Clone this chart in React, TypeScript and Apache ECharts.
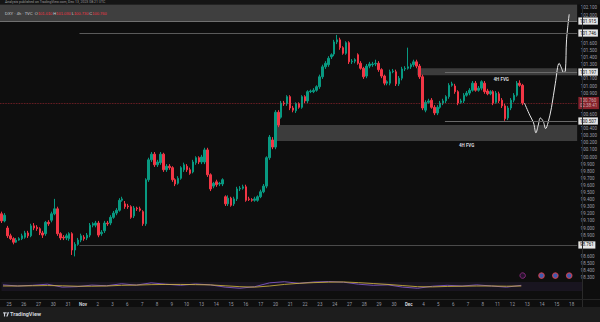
import { useEffect, useRef } from 'react';
import * as echarts from 'echarts';

// ---- data ----
const dayLabels = ['25','26','27','30','31','Nov','2','3','6','7','8','9','10','13','14','15','16','17','20','21','22','23','24','27','28','29','30','Dec','4','5','6','7','8','11','12','13','14','15','18'];
const monthLabels = ['Nov', 'Dec'];
const barsPerDay = 5;
const slotCount = 196;

// [open, close, low, high]
const candles = [
[99.20,99.10,99.07,99.23],[99.10,99.18,99.08,99.21],[99.00,98.89,98.86,99.03],[98.89,98.85,98.83,98.92],[98.85,98.80,98.77,98.87],
[98.80,98.83,98.79,98.86],[98.83,98.85,98.82,98.87],[98.85,98.89,98.83,98.92],[98.87,98.93,98.85,98.96],[98.93,98.89,98.86,98.96],
[98.89,99.03,98.87,99.06],[99.03,99.00,98.97,99.07],[99.01,98.99,98.96,99.04],[98.99,98.93,98.90,99.01],[98.93,98.90,98.86,98.96],
[98.92,99.08,98.89,99.10],[99.08,99.06,99.03,99.11],[99.11,99.20,99.08,99.23],[99.20,99.27,99.18,99.41],[99.27,98.92,98.89,99.30],
[98.92,98.86,98.83,98.94],[98.87,98.86,98.83,98.90],[98.86,98.89,98.83,98.92],[98.85,98.92,98.82,98.94],[98.92,98.69,98.62,98.94],
[98.69,98.77,98.60,98.80],[98.77,98.83,98.75,98.86],[98.83,98.89,98.80,98.92],[98.87,98.85,98.82,98.90],[98.86,98.90,98.83,98.93],
[98.90,99.04,98.87,99.07],[99.04,99.06,99.01,99.08],[99.04,99.07,99.01,99.10],[99.07,98.90,98.87,99.10],[98.92,98.94,98.89,98.97],
[98.96,99.07,98.93,99.10],[99.07,99.06,99.03,99.10],[99.07,99.15,99.04,99.18],[99.15,99.21,99.13,99.24],[99.21,99.25,99.18,99.28],
[99.25,99.39,99.23,99.42],[99.39,99.41,99.37,99.44],[99.34,99.30,99.27,99.38],[99.31,99.30,99.27,99.34],[99.30,99.15,99.13,99.32],
[99.17,99.28,99.14,99.31],[99.28,99.27,99.24,99.30],[99.27,99.25,99.23,99.30],[99.23,99.06,99.03,99.25],[99.06,99.68,99.03,99.70],
[99.68,99.96,99.65,99.99],[99.96,100.04,99.93,100.07],[100.04,99.89,99.86,100.07],[99.89,99.93,99.86,99.96],[99.92,100.04,99.89,100.07],
[100.04,99.82,99.79,100.06],[99.82,99.87,99.79,99.90],[99.87,99.85,99.82,99.90],[99.85,99.68,99.65,99.87],[99.68,99.62,99.59,99.70],
[99.63,99.70,99.61,99.73],[99.70,99.85,99.68,99.87],[99.82,99.89,99.79,99.92],[99.87,99.82,99.79,99.90],[99.82,99.77,99.75,99.85],
[99.79,99.93,99.77,99.96],[99.92,99.99,99.89,100.01],[99.99,99.93,99.90,100.01],[99.93,100.00,99.90,100.03],[99.93,100.10,99.90,100.13],
[100.10,99.75,99.72,100.13],[99.75,99.55,99.52,99.77],[99.59,99.63,99.56,99.65],[99.65,99.61,99.58,99.68],[99.62,99.63,99.59,99.65],
[99.62,99.68,99.59,99.70],[99.44,99.34,99.31,99.46],[99.34,99.42,99.31,99.46],[99.42,99.32,99.30,99.44],[99.34,99.41,99.31,99.44],
[99.41,99.55,99.38,99.58],[99.55,99.56,99.52,99.59],[99.56,99.58,99.54,99.61],[99.58,99.39,99.37,99.61],[99.41,99.40,99.38,99.44],
[99.40,99.39,99.37,99.42],[99.39,99.41,99.37,99.44],[99.39,99.44,99.37,99.46],[99.44,99.51,99.42,99.54],[99.51,99.59,99.49,99.62],
[99.59,99.99,99.56,100.01],[99.99,100.28,99.96,100.31],[100.24,100.14,100.11,100.28],[100.14,100.63,100.11,100.66],[100.63,100.45,100.42,100.66],
[100.56,100.76,100.54,100.79],[100.76,100.75,100.72,100.79],[100.75,100.85,100.72,100.87],[100.85,100.69,100.66,100.87],[100.69,100.66,100.63,100.72],
[100.65,100.75,100.62,100.77],[100.75,100.70,100.68,100.77],[100.70,100.85,100.68,100.87],[100.85,100.79,100.76,100.87],[100.79,100.92,100.76,100.94],
[100.92,100.93,100.90,100.95],[100.92,100.94,100.90,100.97],[100.94,100.99,100.92,101.01],[100.99,101.13,100.96,101.16],[101.13,101.27,101.10,101.30],
[101.27,101.32,101.24,101.35],[101.30,101.39,101.27,101.42],[101.41,101.44,101.38,101.46],[101.45,101.62,101.42,101.65],[101.62,101.65,101.59,101.72],
[101.65,101.54,101.51,101.68],[101.54,101.46,101.44,101.56],[101.46,101.61,101.44,101.63],[101.61,101.34,101.31,101.63],[101.34,101.35,101.31,101.38],
[101.35,101.37,101.32,101.39],[101.44,101.32,101.30,101.46],[101.32,101.25,101.23,101.35],[101.25,101.13,101.10,101.27],[101.14,101.28,101.11,101.31],
[101.28,101.31,101.25,101.34],[101.30,101.31,101.27,101.34],[101.31,101.32,101.28,101.37],[101.32,101.23,101.20,101.35],[101.23,101.14,101.11,101.25],
[101.14,101.04,101.01,101.16],[101.04,101.06,101.01,101.08],[101.04,101.20,101.01,101.23],[101.20,101.21,101.18,101.24],[101.20,101.03,101.00,101.23],
[101.03,101.11,101.00,101.14],[101.11,101.24,101.08,101.27],[101.24,101.25,101.21,101.28],[101.25,101.27,101.23,101.54],[101.27,101.30,101.24,101.32],
[101.30,101.34,101.27,101.37],[101.34,101.28,101.25,101.37],[101.28,101.13,101.10,101.31],[101.13,100.69,100.66,101.16],[100.66,100.77,100.63,100.80],
[100.77,100.79,100.75,100.82],[100.80,100.70,100.68,100.83],[100.70,100.62,100.59,100.73],[100.62,100.70,100.59,100.73],[100.70,100.76,100.68,100.79],
[100.76,100.79,100.73,100.82],[100.79,100.85,100.76,100.87],[100.85,101.01,100.82,101.04],[101.01,101.03,100.99,101.06],[101.00,100.92,100.89,101.03],
[100.92,100.76,100.73,100.94],[100.77,100.79,100.75,100.82],[100.79,100.87,100.76,100.90],[100.87,100.90,100.85,100.93],[100.90,100.94,100.87,100.97],
[100.94,101.04,100.92,101.07],[101.04,100.94,100.92,101.07],[100.94,100.97,100.92,101.00],[100.97,101.06,100.94,101.08],[101.04,100.92,100.89,101.07],
[100.93,100.89,100.87,100.96],[100.89,100.92,100.87,100.94],[100.92,100.76,100.73,100.94],[100.77,100.90,100.75,100.93],[100.89,100.79,100.76,100.92],
[100.80,100.72,100.69,100.83],[100.72,100.54,100.51,100.75],[100.55,100.69,100.52,100.72],[100.69,100.80,100.66,100.83],[100.80,100.87,100.77,100.90],
[100.87,101.04,100.85,101.07],[101.04,101.01,100.99,101.08],[101.01,100.76,100.73,101.03]
];

// hand-drawn projection (bar index, price)
const projIdx = [177.6, 179.4, 180.7, 181.5, 182.3, 183.0, 184.0, 184.8, 185.6, 186.8, 188.1, 189.4, 190.2, 190.9, 191.5, 191.9, 192.8];
const projPrice = [100.76, 100.59, 100.48, 100.34, 100.45, 100.55, 100.50, 100.40, 100.48, 100.70, 101.04, 101.32, 101.25, 101.19, 101.21, 101.65, 102.01];

// RSI pane, one value every 5 bars
const rsiStep = 5;
const rsiValues = [57,52,55,60,47,49,56,53,62,56,66,60,55,61,57,47,42,49,66,71,64,70,72,69,60,55,57,47,42,51,55,52,57,52,47,55];
const rsiMaValues = [52,52,53,54,53,51,51,52,55,56,58,59,59,58,57,53,49,47,52,59,64,67,69,70,67,63,59,54,49,48,50,51,52,52,51,52];

// zones
const topZone = [101.915, 102.15];
const fvgUpper = [101.15, 101.25];
const fvgUpperStart = 141.2;
const fvgLower = [100.225, 100.451];
const fvgLowerStart = 93.3;

// horizontal levels
const levelPrices = [101.915, 101.746, 101.197, 100.507, 98.761];
const levelStarts = [-0.5, 26.5, 150.6, 150.6, 26.5];
const levelNames = ['', 'pwH', 'pdH', 'pdL', 'pwL'];
const levelColors = ['#707070', '#5a5a5a', '#6a6a6a', '#6a6a6a', '#4a4a4a'];

const lastPrice = 100.76;
const countdown = '02:38:41';
const eventIdx = [177, 183.4, 188.1, 192.8];
const eventPrice = 98.33;

const titleText = 'Analysis published on TradingView.com, Dec 13, 2023 08:21 UTC';

// ---- build ----
const catKeys = Array.from({ length: slotCount }, (_, i) => 'b' + i);
const catLabels = catKeys.map((_, i) =>
  i % barsPerDay === 2 && dayLabels[(i - 2) / barsPerDay] !== undefined ? dayLabels[(i - 2) / barsPerDay] : ''
);
const X_END = slotCount - 0.5;

const AXIS_TXT = '#9a9da6';
const FONT = 'Roboto, "Noto Sans", sans-serif';

// axis labels hidden under the price tags, as TradingView does
const hiddenNear = (v: number) =>
  levelPrices.some((p) => Math.abs(p - v) < 0.08) || Math.abs(lastPrice - v) < 0.115;

const tag = (text: string, bg: string, fg: string) => ({
  show: true,
  position: 'end',
  formatter: text,
  backgroundColor: bg,
  color: fg,
  fontSize: 4.5,
  fontFamily: FONT,
  padding: [1.2, 1.6, 1.0, 1.6],
  distance: 1.2,
  lineHeight: 5,
});

const levelLines: any[] = [];
levelPrices.forEach((p, k) => {
  levelLines.push([
    { coord: [levelStarts[k], p], lineStyle: { color: levelColors[k], width: 1, type: 'solid' }, label: tag(p.toFixed(3), '#e6e6e6', '#111') },
    { coord: [X_END, p] },
  ]);
  if (levelNames[k]) {
    levelLines.push([
      { coord: [levelStarts[k], p], lineStyle: { opacity: 0 }, label: { show: true, position: 'insideEndBottom', formatter: levelNames[k], color: '#b8bbc4', fontSize: 4, fontFamily: FONT, distance: 1.2 } },
      { coord: [X_END, p] },
    ]);
  }
});
levelLines.push([
  { coord: [-0.5, lastPrice], lineStyle: { color: '#f23645', width: 0.8, type: 'dotted', opacity: 0.6 }, label: tag(lastPrice.toFixed(3) + '\n' + countdown, '#d8313f', '#fff') },
  { coord: [X_END, lastPrice] },
]);

const zoneStyle = { color: 'rgba(125,125,125,0.42)' };
const fvgLabel = (dx: number) => ({
  show: true,
  position: 'bottom',
  formatter: '4H FVG',
  color: '#d6d8de',
  fontSize: 4.5,
  fontWeight: 'bold',
  fontFamily: FONT,
  distance: 1.5,
  offset: [dx, 0],
});

const option: any = {
  animation: false,
  backgroundColor: '#0e0e0e',
  textStyle: { fontFamily: FONT },
  grid: [
    { left: 0, top: 4.35, width: 582, height: 273.35 },
    { left: 0, top: 275.2, width: 582, height: 22.5 },
  ],
  xAxis: [
    { type: 'category', gridIndex: 0, data: catKeys, show: false, boundaryGap: true },
    { type: 'value', gridIndex: 0, min: -0.5, max: X_END, show: false },
    {
      type: 'category', gridIndex: 1, data: catKeys, boundaryGap: true,
      axisLine: { show: false }, axisTick: { show: false }, splitLine: { show: false },
      axisLabel: {
        interval: 0, margin: 4, color: AXIS_TXT, fontSize: 4.5, fontFamily: FONT,
        formatter: (_v: string, i: number) => {
          const t = catLabels[i];
          return monthLabels.includes(t) ? '{m|' + t + '}' : t;
        },
        rich: { m: { color: '#d1d4dc', fontWeight: 'bold', fontSize: 4.5 } },
      },
    },
  ],
  yAxis: [
    {
      type: 'value', gridIndex: 0, position: 'right', min: 98.3, max: 102.15, interval: 0.1,
      splitLine: { show: false }, axisLine: { show: false }, axisTick: { show: false },
      axisLabel: {
        formatter: (v: number) => (hiddenNear(v) ? '' : v.toFixed(3)),
        color: AXIS_TXT, fontSize: 4.5, margin: 3.5, showMaxLabel: false, fontFamily: FONT,
      },
    },
    { type: 'value', gridIndex: 1, min: 0, max: 100, show: false },
  ],
  series: [
    {
      type: 'line', name: 'projection', xAxisIndex: 1, yAxisIndex: 0, z: 1,
      data: projIdx.map((x, k) => [x, projPrice[k]]),
      showSymbol: false, smooth: 0.35,
      lineStyle: { color: '#e8e8e8', width: 1 },
      markArea: {
        silent: true,
        data: [
          [{ coord: [-0.5, topZone[0]], itemStyle: { color: 'rgba(125,125,125,0.45)' } }, { coord: [X_END, topZone[1]] }],
          [{ coord: [fvgUpperStart, fvgUpper[0]], itemStyle: zoneStyle, label: fvgLabel(4) }, { coord: [X_END, fvgUpper[1]] }],
          [{ coord: [fvgLowerStart, fvgLower[0]], itemStyle: zoneStyle, label: fvgLabel(40) }, { coord: [X_END, fvgLower[1]] }],
        ],
      },
      markLine: {
        silent: true,
        symbol: ['none', 'none'],
        lineStyle: { type: 'solid', width: 1 },
        data: levelLines,
      },
    },
    {
      type: 'candlestick', name: 'price', xAxisIndex: 0, yAxisIndex: 0, z: 3,
      data: candles, barWidth: 2,
      itemStyle: { color: '#089981', color0: '#f23645', borderColor: '#089981', borderColor0: '#f23645', borderWidth: 1 },
    },
    {
      type: 'scatter', name: 'events', xAxisIndex: 1, yAxisIndex: 0, z: 4,
      symbolSize: 5.5,
      data: eventIdx.map((x, k) => ({
        value: [x, eventPrice],
        itemStyle: k === 0
          ? { color: '#2b1633', borderColor: '#9c2a8c', borderWidth: 1 }
          : { color: '#4a6fd8', borderColor: '#e0434f', borderWidth: 1.2 },
      })),
    },
    {
      type: 'line', name: 'RSI', xAxisIndex: 2, yAxisIndex: 1,
      data: rsiValues.map((v, k) => [k * rsiStep, v]),
      showSymbol: false, lineStyle: { color: '#7e57c2', width: 0.9 },
      markArea: { silent: true, data: [[{ yAxis: 30, itemStyle: { color: 'rgba(126,87,194,0.1)' } }, { yAxis: 70 }]] },
      markLine: {
        silent: true, symbol: ['none', 'none'],
        data: [{ yAxis: rsiValues[rsiValues.length - 1], lineStyle: { opacity: 0 }, label: { ...tag(rsiValues[rsiValues.length - 1].toFixed(2), '#7e57c2', '#fff'), offset: [0, 1] } }],
      },
    },
    {
      type: 'line', name: 'RSI MA', xAxisIndex: 2, yAxisIndex: 1,
      data: rsiMaValues.map((v, k) => [k * rsiStep, v]),
      showSymbol: false, lineStyle: { color: '#d9bd3c', width: 0.8 },
      markLine: {
        silent: true, symbol: ['none', 'none'],
        data: [{ yAxis: rsiMaValues[rsiMaValues.length - 1], lineStyle: { opacity: 0 }, label: { ...tag(rsiMaValues[rsiMaValues.length - 1].toFixed(2), '#f2d93b', '#111'), offset: [0, -4] } }],
      },
    },
  ],
  graphic: [
    { type: 'rect', shape: { x: 0, y: 0, width: 600, height: 4.4 }, style: { fill: '#151515' }, z: 100 },
    { type: 'text', x: 5, y: 2.3, z: 101, style: { text: titleText, fill: '#9a9a9a', fontSize: 3.5, fontFamily: FONT, verticalAlign: 'middle' } },
    {
      type: 'text', x: 5, y: 13.5, z: 101,
      style: {
        text: '{a|DXY · 4h · TVC}  {b|O}{c|' + candles[candles.length - 1][0].toFixed(3) + '} {b|H}{c|' + candles[candles.length - 1][3].toFixed(3) + '} {b|L}{c|' + candles[candles.length - 1][2].toFixed(3) + '} {b|C}{c|' + candles[candles.length - 1][1].toFixed(3) + '}',
        verticalAlign: 'middle', fontSize: 4, fontFamily: FONT,
        rich: {
          a: { fill: '#d1d4dc', fontSize: 4 },
          b: { fill: '#d1d4dc', fontSize: 4 },
          c: { fill: '#f23645', fontSize: 4 },
        },
      },
    },
    { type: 'line', z: 100, shape: { x1: 582.5, y1: 4.4, x2: 582.5, y2: 307 }, style: { stroke: '#2a2a2a', lineWidth: 1 } },
    { type: 'line', z: 100, shape: { x1: 0, y1: 299.5, x2: 600, y2: 299.5 }, style: { stroke: '#262626', lineWidth: 1 } },
    { type: 'rect', z: 100, shape: { x: 0, y: 307, width: 600, height: 15 }, style: { fill: '#1d1d1d' } },
    { type: 'tvLogo', z: 101, x: 3.2, y: 312.2, scaleX: 0.38, scaleY: 0.42, style: { fill: '#d1d4dc' } },
    { type: 'text', z: 101, x: 10, y: 314.4, style: { text: 'TradingView', fill: '#d1d4dc', fontSize: 5.5, fontWeight: 'bold', fontFamily: FONT, verticalAlign: 'middle' } },
  ],
};

let logoRegistered = false;
function registerLogo() {
  if (logoRegistered) return;
  const d = 'M0 0H7V3H5V10H2V3H0Z M9.5 0A1.5 1.5 0 1 1 9.5 3A1.5 1.5 0 1 1 9.5 0Z M12 0H15.5L11.5 10H8Z';
  echarts.graphic.registerShape('tvLogo', echarts.graphic.extendPath(d, {}));
  logoRegistered = true;
}

export default function App() {
  const ref = useRef<HTMLDivElement>(null);
  useEffect(() => {
    document.body.style.margin = '0';
    document.body.style.background = '#0e0e0e';
    registerLogo();
    const chart = echarts.init(ref.current as HTMLDivElement, undefined, { renderer: 'svg' });
    chart.setOption(option);
    return () => chart.dispose();
  }, []);
  return <div ref={ref} style={{ width: 600, height: 322 }} />;
}
